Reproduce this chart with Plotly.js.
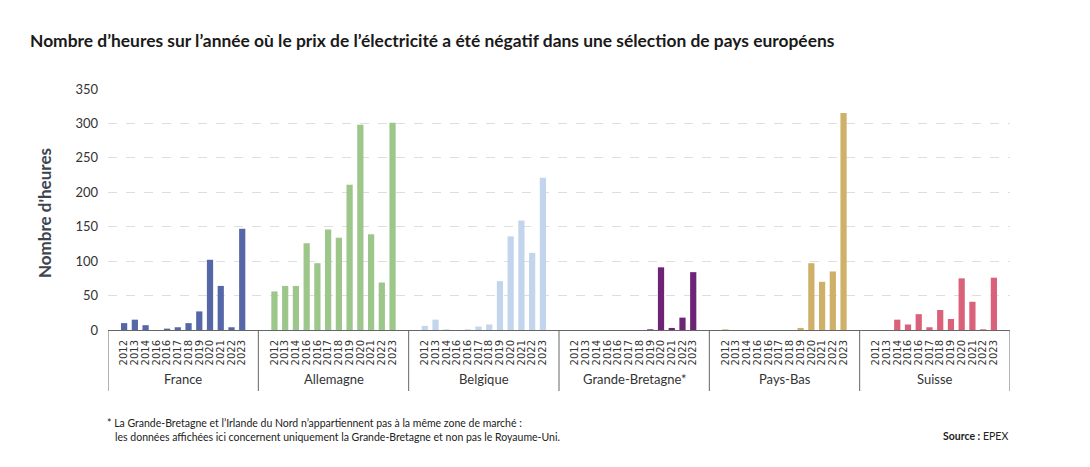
<!DOCTYPE html>
<html>
<head>
<meta charset="utf-8">
<script src="https://cdn.plot.ly/plotly-3.0.1.min.js"></script>
<style>html,body{margin:0;padding:0;background:#fff;}#chart{width:1090px;height:467px;}</style>
</head>
<body>
<div id="chart"></div>
<script>
// ---- data ----
const countries = ["France", "Allemagne", "Belgique", "Grande-Bretagne*", "Pays-Bas", "Suisse"];
const yearLabels = ["2012", "2013", "2014", "2016", "2016", "2017", "2018", "2019", "2020", "2021", "2022", "2023"];
const france     = [10, 15, 7, 0, 2, 4, 10, 27, 102, 64, 4, 147];
const allemagne  = [56, 64, 64, 126, 97, 146, 134, 211, 298, 139, 69, 301];
const belgique   = [6, 15, 1, 0, 1, 5, 8, 71, 136, 159, 112, 221];
const grandeBretagne = [0, 0, 0, 0, 0, 0, 0, 1, 91, 3, 18, 84];
const paysBas    = [1, 0, 0, 0, 0, 0, 0, 3, 97, 70, 85, 315];
const suisse     = [0, 0, 15, 8, 23, 4, 29, 16, 75, 41, 1, 76];
const yTicks = [0, 50, 100, 150, 200, 250, 300, 350];

const seriesValues = [france, allemagne, belgique, grandeBretagne, paysBas, suisse];
const colors = ["#5667a8", "#9dc68a", "#c3d5ec", "#6e2476", "#cfb069", "#d9627a"];

// ---- layout geometry ----
const W = 1090, H = 467;
const M = {l: 108, r: 80, t: 89, b: 137};
const PW = W - M.l - M.r, PH = H - M.t - M.b;
const px2x = p => (p - M.l) / PW;
const py2y = p => (H - M.b - p) / PH;

const n = yearLabels.length;
const slots = n + 2; // one empty slot of padding on each side of a group
const traces = [];
const tickvals = [], ticktext = [];
countries.forEach((c, g) => {
  const xs = yearLabels.map((_, j) => g * slots + j + 1);
  xs.forEach((x, j) => { tickvals.push(x); ticktext.push(yearLabels[j]); });
  traces.push({
    type: "bar", x: xs, y: seriesValues[g], name: c,
    marker: {color: colors[g]}, hoverinfo: "skip"
  });
});

const shapes = [];
for (let g = 0; g <= countries.length; g++) {
  shapes.push({type: "line", xref: "x", yref: "paper",
    x0: g * slots - 0.5, x1: g * slots - 0.5, y0: 0, y1: py2y(391),
    line: {color: "#666", width: 1}});
}

const font = "Lato, 'Open Sans', sans-serif";
const annotations = countries.map((c, g) => ({
  text: c, xref: "x", yref: "paper", x: g * slots + (slots - 1) / 2, y: py2y(379),
  showarrow: false, xanchor: "center", yanchor: "middle",
  font: {family: font, size: 13, color: "#333"}
}));
annotations.push({
  text: "Nombre d'heures", xref: "paper", yref: "paper", x: px2x(44), y: py2y(213),
  textangle: -90, showarrow: false, xanchor: "center", yanchor: "middle",
  font: {family: font, size: 17, color: "#3d4450", weight: "bold"}
});
annotations.push({
  text: "* La Grande-Bretagne et l’Irlande du Nord n’appartiennent pas à la même zone de marché :<br>   les données affichées ici concernent uniquement la Grande-Bretagne et non pas le Royaume-Uni.",
  xref: "paper", yref: "paper", x: px2x(105), y: py2y(430),
  showarrow: false, xanchor: "left", yanchor: "middle", align: "left",
  font: {family: font, size: 10.5, color: "#222"}
});
annotations.push({
  text: "<b>Source :</b> EPEX", xref: "paper", yref: "paper", x: px2x(1010), y: py2y(436),
  showarrow: false, xanchor: "right", yanchor: "middle",
  font: {family: font, size: 10.5, color: "#222"}
});

const layout = {
  width: W, height: H, margin: M,
  paper_bgcolor: "#fff", plot_bgcolor: "#fff",
  showlegend: false, bargap: 0.42, hovermode: false,
  title: {text: "<b>Nombre d’heures sur l’année où le prix de l’électricité a été négatif dans une sélection de pays européens</b>",
    xref: "container", yref: "container", x: 30 / W, xanchor: "left", y: 1 - 41 / H, yanchor: "middle",
    font: {family: font, size: 17.4, color: "#1a1a1a"}},
  xaxis: {range: [-0.5, countries.length * slots - 0.5], tickmode: "array", tickvals: tickvals, ticktext: ticktext,
    tickangle: -90, ticks: "", ticklabelstandoff: 5, showgrid: false, zeroline: false, showline: true, linecolor: "#666", linewidth: 1,
    tickfont: {family: "'DejaVu Sans', sans-serif", size: 10, color: "#333"}, fixedrange: true},
  yaxis: {range: [0, 350], tickmode: "array", tickvals: yTicks, showgrid: true, gridcolor: "#dedede", griddash: "dash",
    zeroline: false, showline: false, ticks: "", ticklabelstandoff: 9, tickfont: {family: font, size: 13, color: "#333"}, fixedrange: true},
  shapes: shapes, annotations: annotations
};

Plotly.newPlot("chart", traces, layout, {displayModeBar: false, staticPlot: true});
</script>
</body>
</html>
